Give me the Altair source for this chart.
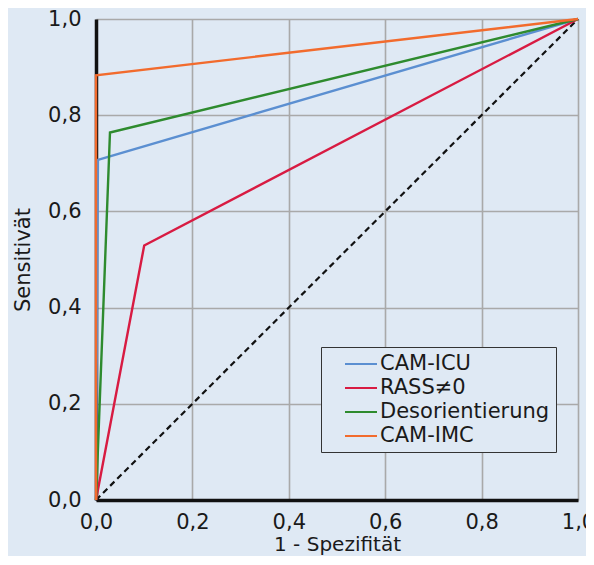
import altair as alt
import pandas as pd

series = ["CAM-ICU", "RASS≠0", "Desorientierung", "CAM-IMC"]
colors = ["#5b8fd1", "#d81b42", "#2e8b2e", "#f26b2d"]

fpr_cam_icu = [0.0, 0.004, 1.0]
tpr_cam_icu = [0.0, 0.707, 1.0]
fpr_rass = [0.0, 0.100, 1.0]
tpr_rass = [0.0, 0.529, 1.0]
fpr_deso = [0.0, 0.029, 1.0]
tpr_deso = [0.0, 0.764, 1.0]
fpr_cam_imc = [0.0, 0.0, 1.0]
tpr_cam_imc = [0.0, 0.883, 1.0]

diag_x = [0.0, 1.0]
diag_y = [0.0, 1.0]

tick_values = [0.0, 0.2, 0.4, 0.6, 0.8, 1.0]

rows = []
for name, xs, ys in [
    ("CAM-ICU", fpr_cam_icu, tpr_cam_icu),
    ("RASS≠0", fpr_rass, tpr_rass),
    ("Desorientierung", fpr_deso, tpr_deso),
    ("CAM-IMC", fpr_cam_imc, tpr_cam_imc),
]:
    for i, (x, y) in enumerate(zip(xs, ys)):
        rows.append({"Kurve": name, "fpr": x, "tpr": y, "idx": i})
df = pd.DataFrame(rows)
diag = pd.DataFrame({"fpr": diag_x, "tpr": diag_y, "idx": [0, 1]})

label_expr = "replace(format(datum.value, '.1f'), '.', ',')"
FONT = "DejaVu Sans"
BG = "#dfe9f4"

xscale = alt.Scale(domain=[0, 1], nice=False)
yscale = alt.Scale(domain=[0, 1], nice=False)

xaxis = alt.Axis(values=tick_values, labelExpr=label_expr, title="1 - Spezifität",
                 grid=True, gridColor="#a9a9a9", gridWidth=1.6, ticks=False,
                 domainColor="#111111", domainWidth=3.5, labelPadding=11,
                 labelFlush=False, labelOverlap=False, titleFontSize=20,
                 titlePadding=2, zindex=0)
yaxis = alt.Axis(values=tick_values, labelExpr=label_expr, title="Sensitivät",
                 grid=True, gridColor="#a9a9a9", gridWidth=1.6, ticks=False,
                 domainColor="#111111", domainWidth=3.5, labelPadding=15,
                 labelFlush=False, labelOverlap=False,
                 titlePadding=14, zindex=0)

diag_layer = alt.Chart(diag).mark_line(color="#111111", strokeWidth=2.2, strokeDash=[6, 4]).encode(
    x=alt.X("fpr:Q", scale=xscale, axis=xaxis),
    y=alt.Y("tpr:Q", scale=yscale, axis=yaxis),
    order="idx:O",
)

lines = alt.Chart(df).mark_line(strokeWidth=2.4).encode(
    x=alt.X("fpr:Q", scale=xscale, axis=xaxis),
    y=alt.Y("tpr:Q", scale=yscale, axis=yaxis),
    color=alt.Color("Kurve:N", scale=alt.Scale(domain=series, range=colors),
                    legend=alt.Legend(title=None, orient="none", legendX=225, legendY=328,
                                      symbolType="M-1.6,0H1.6", symbolSize=400,
                                      symbolStrokeWidth=2, symbolOffset=23,
                                      labelFont=FONT, labelFontSize=21, labelColor="#1a1a1a",
                                      labelOffset=8, labelLimit=400, padding=6, rowPadding=3,
                                      strokeColor="#333333", fillColor=BG)),
    order="idx:O",
)

chart = alt.layer(diag_layer, lines).properties(
    width=482, height=481,
    autosize=alt.AutoSizeParams(type="none"),
    padding={"left": 88, "top": 11, "right": 8, "bottom": 56},
    background=BG,
).configure_view(strokeWidth=0).configure_axis(
    labelFont=FONT, labelFontSize=21, labelColor="#1a1a1a",
    titleFont=FONT, titleFontSize=21, titleFontWeight="normal", titleColor="#1a1a1a",
)

chart.save("out.html", embed_options={"renderer": "svg", "actions": False})
